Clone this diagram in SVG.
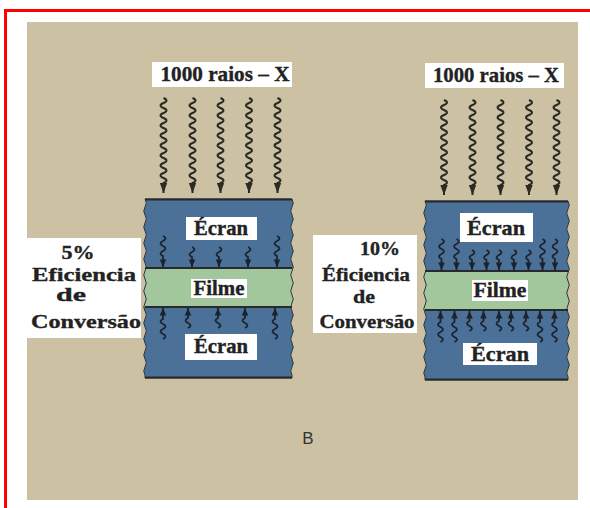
<svg xmlns="http://www.w3.org/2000/svg" xmlns:xlink="http://www.w3.org/1999/xlink" width="590" height="508" viewBox="0 0 590 508">
<style>
.t{font-family:"Liberation Serif","Times New Roman",serif;font-weight:bold;fill:#222;stroke:#222;stroke-width:0.35;text-anchor:middle}
.box{fill:#ffffff}
.ray{fill:none;stroke:#2b2a24;stroke-width:2}
.ia{fill:none;stroke:#1b2330;stroke-width:1.8}
.screen{fill:#4b7198}
.film{fill:#a2c79d}
.edge{fill:none;stroke:#33383d;stroke-width:1}
.hl{stroke:#262a2c;stroke-width:2.2}
</style>
<defs>
<marker id="mh" markerUnits="userSpaceOnUse" viewBox="-10 -4 11 8" refX="0" refY="0" markerWidth="11" markerHeight="8" orient="auto">
<path d="M0,0 L-10,-3.7 L-10,3.7 Z" fill="#2b2a24"/>
</marker>
<marker id="ms" markerUnits="userSpaceOnUse" viewBox="-8 -4 9 8" refX="0" refY="0" markerWidth="9" markerHeight="8" orient="auto">
<path d="M0,0 L-7.5,-3.3 L-7.5,3.3 Z" fill="#1b2330"/>
</marker>
<path id="ray" class="ray" marker-end="url(#mh)" d="M0,0 q6,2.5 0,5 t0,5 t0,5 t0,5 t0,5 t0,5 t0,5 t0,5 t0,5 t0,5 t0,5 t0,5 t0,5 t0,5 t0,5 t0,5 t0,5 l0,10"/>
<path id="s20" class="ia" marker-end="url(#ms)" d="M0,0 q5,2.5 0,5 t0,5 l0,10"/>
<path id="s31" class="ia" marker-end="url(#ms)" d="M0,0 q5,2.5 0,5 t0,5 t0,5 t0,5 l0,11"/>
<path id="stackL" d="M0,0 H147 q2.5,4 0,8 t0,8 t0,8 t0,8 t0,8 t0,8 t0,8 t0,8 t0,8 t0,8 t0,8 t0,8 t0,8 t0,8 t0,8 t0,8 t0,8 t0,8 t0,8 t0,8 t0,8 t0,8 l0,3 H0 l0,-3 q-2.5,-4 0,-8 t0,-8 t0,-8 t0,-8 t0,-8 t0,-8 t0,-8 t0,-8 t0,-8 t0,-8 t0,-8 t0,-8 t0,-8 t0,-8 t0,-8 t0,-8 t0,-8 t0,-8 t0,-8 t0,-8 t0,-8 t0,-8 Z"/>
<path id="stackR" d="M0,0 H143 q2.5,4 0,8 t0,8 t0,8 t0,8 t0,8 t0,8 t0,8 t0,8 t0,8 t0,8 t0,8 t0,8 t0,8 t0,8 t0,8 t0,8 t0,8 t0,8 t0,8 t0,8 t0,8 t0,8 l0,3 H0 l0,-3 q-2.5,-4 0,-8 t0,-8 t0,-8 t0,-8 t0,-8 t0,-8 t0,-8 t0,-8 t0,-8 t0,-8 t0,-8 t0,-8 t0,-8 t0,-8 t0,-8 t0,-8 t0,-8 t0,-8 t0,-8 t0,-8 t0,-8 t0,-8 Z"/>
<clipPath id="clipL"><use xlink:href="#stackL"/></clipPath>
<clipPath id="clipR"><use xlink:href="#stackR"/></clipPath>
</defs>

<rect x="0" y="0" width="590" height="508" fill="#ffffff"/>
<rect x="27" y="22" width="551" height="478" fill="#ccc2a3"/>
<path d="M5.5,508 V10.5 H590" fill="none" stroke="#ff0000" stroke-width="3"/>

<g id="label-rays-left">
<rect class="box" x="152" y="62" width="140" height="25"/>
<text class="t" x="225" y="81" font-size="21" textLength="129" lengthAdjust="spacingAndGlyphs">1000 raios – X</text>
</g>
<g id="label-rays-right">
<rect class="box" x="425" y="63" width="139" height="25"/>
<text class="t" x="496" y="82" font-size="21" textLength="126" lengthAdjust="spacingAndGlyphs">1000 raios – X</text>
</g>

<g id="stack-left" transform="translate(145,199)">
<use xlink:href="#stackL" class="screen"/>
<rect class="film" x="-5" y="69" width="160" height="39" clip-path="url(#clipL)"/>
<use xlink:href="#stackL" class="edge"/>
<line class="hl" x1="0" y1="0.5" x2="147" y2="0.5" stroke-width="2.6"/>
<line class="hl" x1="0" y1="69" x2="147" y2="69"/>
<line class="hl" x1="0" y1="108" x2="147" y2="108"/>
<line class="hl" x1="0" y1="178.5" x2="147" y2="178.5"/>
<rect class="box" x="41" y="18" width="71" height="23"/>
<text class="t" x="76" y="36" font-size="20" textLength="54" lengthAdjust="spacingAndGlyphs">Écran</text>
<rect class="box" x="46" y="80" width="56" height="19"/>
<text class="t" x="74" y="96" font-size="20" textLength="51" lengthAdjust="spacingAndGlyphs">Filme</text>
<rect class="box" x="40" y="135" width="72" height="26"/>
<text class="t" x="76" y="154" font-size="20" textLength="54" lengthAdjust="spacingAndGlyphs">Écran</text>
</g>

<g id="stack-right" transform="translate(425,201)">
<use xlink:href="#stackR" class="screen"/>
<rect class="film" x="-5" y="70" width="155" height="39" clip-path="url(#clipR)"/>
<use xlink:href="#stackR" class="edge"/>
<line class="hl" x1="0" y1="0.5" x2="143" y2="0.5" stroke-width="2.6"/>
<line class="hl" x1="0" y1="70" x2="143" y2="70"/>
<line class="hl" x1="0" y1="109" x2="143" y2="109"/>
<line class="hl" x1="0" y1="178.5" x2="143" y2="178.5"/>
<rect class="box" x="35" y="12" width="73" height="29"/>
<text class="t" x="71" y="34" font-size="21" textLength="58" lengthAdjust="spacingAndGlyphs">Écran</text>
<rect class="box" x="47" y="79" width="56" height="21"/>
<text class="t" x="75" y="96" font-size="21" textLength="53" lengthAdjust="spacingAndGlyphs">Filme</text>
<rect class="box" x="38" y="142" width="74" height="22"/>
<text class="t" x="75" y="160" font-size="21" textLength="58" lengthAdjust="spacingAndGlyphs">Écran</text>
</g>

<g id="efficiency-left">
<rect class="box" x="27" y="238" width="114" height="100"/>
<text class="t" x="78" y="259" font-size="19" textLength="33" lengthAdjust="spacingAndGlyphs">5%</text>
<text class="t" x="84" y="281" font-size="19" textLength="104" lengthAdjust="spacingAndGlyphs">Eficiencia</text>
<text class="t" x="71" y="301" font-size="19" textLength="30" lengthAdjust="spacingAndGlyphs">de</text>
<text class="t" x="86" y="328" font-size="19" textLength="110" lengthAdjust="spacingAndGlyphs">Conversão</text>
</g>

<g id="efficiency-right">
<rect class="box" x="313" y="235" width="104" height="98"/>
<text class="t" x="380" y="255" font-size="19" textLength="40" lengthAdjust="spacingAndGlyphs">10%</text>
<text class="t" x="366" y="281" font-size="19" textLength="88" lengthAdjust="spacingAndGlyphs">Éficiencia</text>
<text class="t" x="364" y="303" font-size="19" textLength="22" lengthAdjust="spacingAndGlyphs">de</text>
<text class="t" x="367" y="328" font-size="19" textLength="95" lengthAdjust="spacingAndGlyphs">Conversão</text>
</g>

<g id="connectors">
<use xlink:href="#ray" x="163.5" y="98"/>
<use xlink:href="#ray" x="192.5" y="98"/>
<use xlink:href="#ray" x="220.5" y="98"/>
<use xlink:href="#ray" x="249" y="98"/>
<use xlink:href="#ray" x="277.5" y="98"/>
<use xlink:href="#ray" x="444" y="100"/>
<use xlink:href="#ray" x="472.5" y="100"/>
<use xlink:href="#ray" x="500.5" y="100"/>
<use xlink:href="#ray" x="529" y="100"/>
<use xlink:href="#ray" x="556.5" y="100"/>

<use xlink:href="#s31" x="163" y="236"/>
<use xlink:href="#s20" x="192" y="247"/>
<use xlink:href="#s20" x="219" y="247"/>
<use xlink:href="#s20" x="248" y="247"/>
<use xlink:href="#s31" x="277" y="236"/>

<use xlink:href="#s31" transform="translate(163,339) scale(1,-1)"/>
<use xlink:href="#s20" transform="translate(188,328) scale(1,-1)"/>
<use xlink:href="#s20" transform="translate(218,328) scale(1,-1)"/>
<use xlink:href="#s20" transform="translate(245,328) scale(1,-1)"/>
<use xlink:href="#s31" transform="translate(275,339) scale(1,-1)"/>

<use xlink:href="#s31" x="441.5" y="239"/>
<use xlink:href="#s31" x="456.5" y="239"/>
<use xlink:href="#s20" x="472" y="250"/>
<use xlink:href="#s20" x="486.5" y="250"/>
<use xlink:href="#s20" x="499" y="250"/>
<use xlink:href="#s20" x="514" y="250"/>
<use xlink:href="#s20" x="528.5" y="250"/>
<use xlink:href="#s31" x="542.5" y="239"/>
<use xlink:href="#s31" x="555" y="239"/>

<use xlink:href="#s31" transform="translate(440.5,342) scale(1,-1)"/>
<use xlink:href="#s31" transform="translate(454.5,342) scale(1,-1)"/>
<use xlink:href="#s20" transform="translate(469.5,331) scale(1,-1)"/>
<use xlink:href="#s20" transform="translate(483.5,331) scale(1,-1)"/>
<use xlink:href="#s20" transform="translate(499,331) scale(1,-1)"/>
<use xlink:href="#s20" transform="translate(511,331) scale(1,-1)"/>
<use xlink:href="#s20" transform="translate(526,331) scale(1,-1)"/>
<use xlink:href="#s31" transform="translate(540,342) scale(1,-1)"/>
<use xlink:href="#s31" transform="translate(554.5,342) scale(1,-1)"/>
</g>

<text x="308" y="444" font-family="Liberation Sans, Arial, sans-serif" font-size="17" fill="#333" text-anchor="middle">B</text>
</svg>
